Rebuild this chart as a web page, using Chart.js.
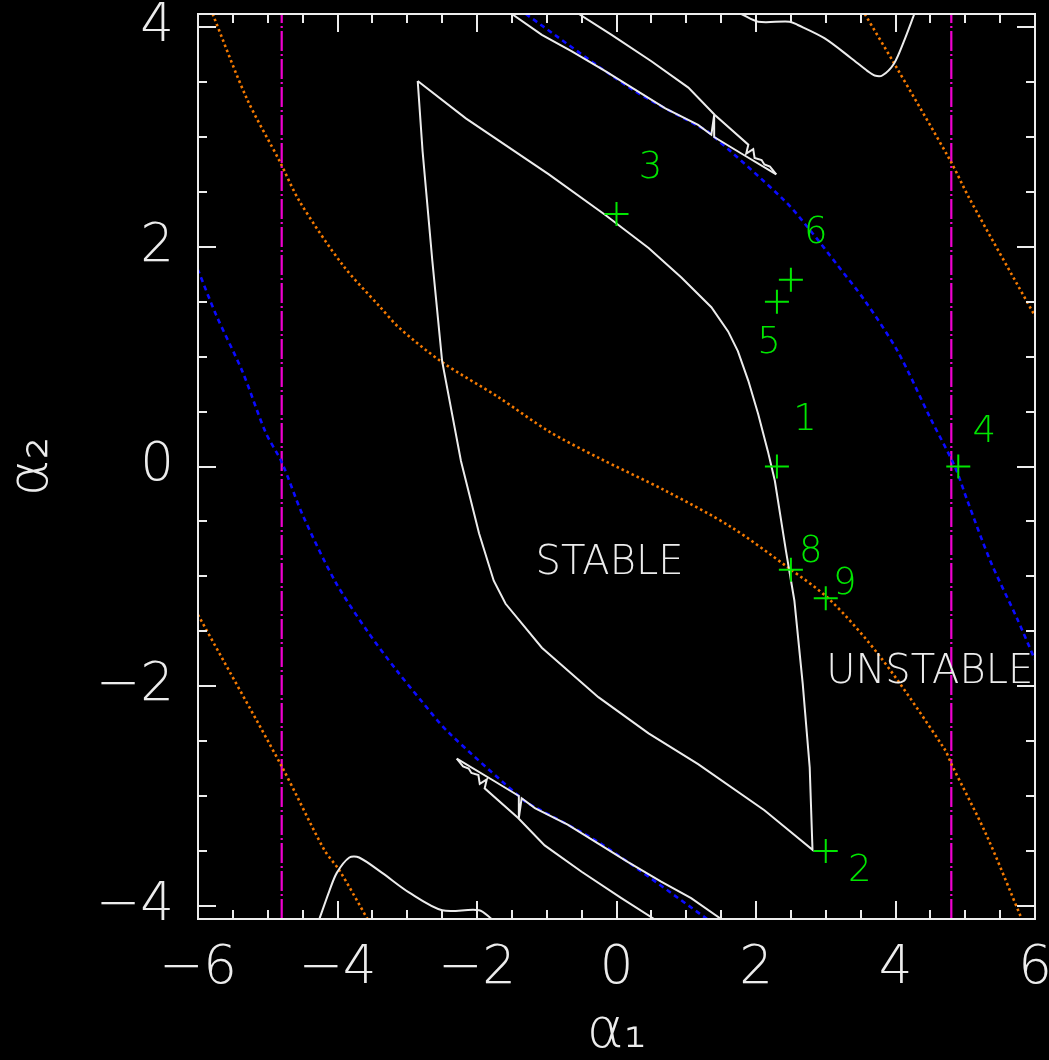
<!DOCTYPE html>
<html>
<head>
<meta charset="utf-8">
<script src="https://cdn.jsdelivr.net/npm/chart.js@4.4.1/dist/chart.umd.min.js"></script>
<style>
  html, body { margin: 0; padding: 0; background: #000; }
</style>
</head>
<body>
<canvas id="stabilityChart" width="1049" height="1060"></canvas>
<script>
// axis ticks
const xTickValues = [-6, -4, -2, 0, 2, 4, 6];
const yTickValues = [-4, -2, 0, 2, 4];

// white curves: stability boundary and side lobes
const stableBoundary = [
  [-2.85, 3.51], [-2.16, 3.17], [-0.97, 2.66], [-0.16, 2.29], [0.46, 1.99], [0.93, 1.72],
  [1.36, 1.45], [1.6, 1.23], [1.74, 1.05], [1.89, 0.78], [2.03, 0.48], [2.17, 0.14],
  [2.27, -0.13], [2.43, -0.77], [2.55, -1.22], [2.67, -1.98], [2.77, -2.74], [2.81, -3.49],
  [2.12, -3.13], [1.17, -2.71], [0.46, -2.43], [-0.26, -2.1], [-1.07, -1.65], [-1.59, -1.25],
  [-1.76, -1.04], [-1.97, -0.61], [-2.23, 0.05], [-2.5, 0.96], [-2.64, 1.87], [-2.78, 2.87],
  [-2.85, 3.51]
];
const topLobeInner = [
  [-1.5, 4.12], [-1.07, 3.93], [-0.64, 3.78], [-0.16, 3.6], [0.22, 3.45], [0.7, 3.26],
  [1.17, 3.11], [1.36, 3.02], [1.4, 3.2], [1.4, 3.0], [1.79, 2.85], [2.29, 2.66]
];
const topLobeOuter = [
  [-0.54, 4.12], [-0.07, 3.93], [0.5, 3.69], [1.03, 3.45], [1.41, 3.2], [1.89, 2.93],
  [1.86, 2.85], [1.96, 2.89], [1.98, 2.81], [2.08, 2.79], [2.12, 2.75], [2.2, 2.73], [2.29, 2.66]
];
const bottomLobeInner = [
  [1.5, -4.12], [1.07, -3.93], [0.64, -3.78], [0.16, -3.6], [-0.22, -3.45], [-0.7, -3.26],
  [-1.17, -3.11], [-1.36, -3.02], [-1.4, -3.2], [-1.4, -3.0], [-1.79, -2.85], [-2.29, -2.66]
];
const bottomLobeOuter = [
  [0.54, -4.12], [0.07, -3.93], [-0.5, -3.69], [-1.03, -3.45], [-1.41, -3.2], [-1.89, -2.93],
  [-1.86, -2.85], [-1.96, -2.89], [-1.98, -2.81], [-2.08, -2.79], [-2.12, -2.75], [-2.2, -2.73], [-2.29, -2.66]
];
const topRightCurve = [
  [1.79, 4.12], [2.03, 4.05], [2.48, 4.05], [2.6, 4.02], [2.98, 3.9], [3.36, 3.72],
  [3.6, 3.6], [3.7, 3.56], [3.81, 3.56], [3.98, 3.67], [4.12, 3.87], [4.27, 4.12]
];
const bottomLeftCurve = [
  [-4.26, -4.12], [-4.12, -3.87], [-4.01, -3.7], [-3.83, -3.56], [-3.69, -3.56], [-3.36, -3.7],
  [-2.97, -3.88], [-2.5, -4.04], [-1.97, -4.04], [-1.79, -4.12]
];

// blue dashed curves
const blueUpper = [
  [-1.3, 4.12], [0.21, 3.44], [1.17, 3.1], [1.31, 3.05], [2.41, 2.42], [2.79, 2.14],
  [3.16, 1.84], [3.56, 1.51], [4.03, 1.05], [4.5, 0.44], [4.85, 0], [5.03, -0.31],
  [5.36, -0.86], [5.74, -1.38], [6, -1.76]
];
const blueLower = [
  [1.3, -4.12], [-0.21, -3.44], [-1.17, -3.1], [-1.31, -3.05], [-2.41, -2.42], [-2.79, -2.14],
  [-3.16, -1.85], [-3.56, -1.51], [-4.03, -1.05], [-4.5, -0.44], [-4.8, 0.04], [-5.03, 0.31],
  [-5.36, 0.86], [-5.74, 1.38], [-6, 1.79]
];

// orange dotted curves
const orangeMiddle = [
  [-5.79, 4.12], [-5.3, 3.35], [-4.83, 2.78], [-4.54, 2.41], [-3.92, 1.83], [-3.4, 1.46],
  [-3.11, 1.26], [-2.5, 0.95], [-1.69, 0.63], [-0.97, 0.32], [-0.26, 0.08], [0.7, -0.22],
  [1.64, -0.55], [2.46, -0.92], [3.07, -1.22], [3.79, -1.74], [4.7, -2.57], [4.81, -2.72],
  [5.3, -3.35], [5.81, -4.12]
];
const orangeLower = [[-6, -1.35], [-4.8, -2.73], [-4.19, -3.49], [-3.97, -3.68], [-3.57, -4.12]];
const orangeUpper = [[3.56, 4.12], [3.99, 3.66], [4.79, 2.78], [5.06, 2.44], [6, 1.37]];

// magenta dash-dot verticals
const magentaLeft = [[-4.8, -4.12], [-4.8, 4.12]];
const magentaRight = [[4.8, -4.12], [4.8, 4.12]];

// green numbered points
const markerIds = ['1', '2', '3', '4', '5', '6', '8', '9'];
const markerX = [2.3, 3.0, 0.0, 4.9, 2.3, 2.5, 2.5, 3.0];
const markerY = [0.0, -3.5, 2.3, 0.0, 1.5, 1.7, -0.94, -1.2];

// region names
const regionNames = ['STABLE', 'UNSTABLE'];
const regionX = [-0.1, 4.49];
const regionY = [-0.88, -1.88];

const FONT = '"DejaVu Sans", "Liberation Sans", sans-serif';
const WHITE = '#ececec';
const GREEN = '#00e600';
const ORANGE = '#f57a00';
const BLUE = '#0a0aff';
const MAGENTA = '#f000d0';
const labelOffsets = {
  '1': [28, -46], '2': [34, 20], '3': [34, -46], '4': [26, -34],
  '5': [-8, 42], '6': [25, -46], '8': [20, -17], '9': [19, -14]
};

const pts = arr => arr.map(p => ({ x: p[0], y: p[1] }));

function curve(data, color, width, dash, order, tension) {
  return {
    data: pts(data),
    showLine: true,
    borderColor: color,
    borderWidth: width,
    borderDash: dash,
    pointRadius: 0,
    tension: tension,
    fill: false,
    order: order
  };
}

const fmt = v => (v < 0 ? '\u2212' + Math.abs(v) : String(v));

const background = {
  id: 'background',
  beforeDraw(chart) {
    const ctx = chart.ctx;
    ctx.save();
    ctx.fillStyle = '#000';
    ctx.fillRect(0, 0, chart.width, chart.height);
    ctx.restore();
  }
};

const frameTicks = {
  id: 'frameTicks',
  afterDraw(chart) {
    const { ctx, chartArea: a, scales: { x, y } } = chart;
    ctx.save();
    ctx.strokeStyle = WHITE;
    ctx.lineWidth = 2;
    ctx.strokeRect(a.left, a.top, a.right - a.left, a.bottom - a.top);
    ctx.beginPath();
    for (let v = -6; v <= 6; v += 0.5) {
      const len = v % 2 === 0 ? 18 : 9;
      const px = Math.round(x.getPixelForValue(v));
      ctx.moveTo(px, a.bottom); ctx.lineTo(px, a.bottom - len);
      ctx.moveTo(px, a.top); ctx.lineTo(px, a.top + len);
    }
    for (let v = -4; v <= 4; v += 0.5) {
      const len = v % 2 === 0 ? 18 : 9;
      const py = Math.round(y.getPixelForValue(v));
      ctx.moveTo(a.left, py); ctx.lineTo(a.left + len, py);
      ctx.moveTo(a.right, py); ctx.lineTo(a.right - len, py);
    }
    ctx.stroke();
    ctx.restore();
  }
};

const textLabels = {
  id: 'textLabels',
  afterDatasetsDraw(chart) {
    const { ctx, scales: { x, y } } = chart;
    ctx.save();
    ctx.textAlign = 'center';
    ctx.textBaseline = 'middle';
    ctx.fillStyle = GREEN;
    ctx.font = '200 37px ' + FONT;
    markerIds.forEach((id, i) => {
      const off = labelOffsets[id];
      ctx.fillText(id, x.getPixelForValue(markerX[i]) + off[0], y.getPixelForValue(markerY[i]) + off[1]);
    });
    ctx.fillStyle = WHITE;
    ctx.font = '200 40px ' + FONT;
    regionNames.forEach((name, i) => {
      ctx.fillText(name, x.getPixelForValue(regionX[i]), y.getPixelForValue(regionY[i]));
    });
    ctx.restore();
  }
};

const tickFont = { family: FONT, size: 53, weight: '200' };

new Chart(document.getElementById('stabilityChart'), {
  type: 'scatter',
  data: {
    datasets: [
      {
        data: markerIds.map((id, i) => ({ x: markerX[i], y: markerY[i] })),
        pointStyle: 'cross',
        pointRadius: 12,
        pointBorderWidth: 2,
        borderColor: GREEN,
        showLine: false,
        order: 0
      },
      curve(stableBoundary, WHITE, 2, [], 1, 0),
      curve(topLobeInner, WHITE, 2, [], 1, 0),
      curve(topLobeOuter, WHITE, 2, [], 1, 0),
      curve(bottomLobeInner, WHITE, 2, [], 1, 0),
      curve(bottomLobeOuter, WHITE, 2, [], 1, 0),
      curve(topRightCurve, WHITE, 2, [], 1, 0.3),
      curve(bottomLeftCurve, WHITE, 2, [], 1, 0.3),
      curve(orangeMiddle, ORANGE, 2.6, [2.5, 3], 2, 0.3),
      curve(orangeLower, ORANGE, 2.6, [2.5, 3], 2, 0.3),
      curve(orangeUpper, ORANGE, 2.6, [2.5, 3], 2, 0.3),
      curve(blueUpper, BLUE, 2.6, [5, 4], 3, 0.3),
      curve(blueLower, BLUE, 2.6, [5, 4], 3, 0.3),
      curve(magentaLeft, MAGENTA, 2.2, [20, 3, 2, 3], 4, 0),
      curve(magentaRight, MAGENTA, 2.2, [20, 3, 2, 3], 4, 0)
    ]
  },
  options: {
    responsive: false,
    animation: false,
    events: [],
    layout: { padding: { top: 13, right: 11, left: 0, bottom: 0 } },
    plugins: { legend: { display: false }, tooltip: { enabled: false } },
    scales: {
      x: {
        type: 'linear',
        min: -6,
        max: 6,
        afterBuildTicks: s => { s.ticks = xTickValues.map(v => ({ value: v })); },
        afterFit: s => { s.height = 141; s.paddingLeft = 0; s.paddingRight = 0; },
        grid: { display: false, drawTicks: false },
        border: { display: false },
        ticks: { color: WHITE, font: tickFont, padding: 18, maxRotation: 0, autoSkip: false, callback: fmt },
        title: {
          display: true,
          text: 'α₁',
          color: WHITE,
          font: { family: FONT, size: 56, weight: '200', lineHeight: 1 },
          padding: { top: 0, bottom: 0 }
        }
      },
      y: {
        type: 'linear',
        min: -4.12,
        max: 4.12,
        afterBuildTicks: s => { s.ticks = yTickValues.map(v => ({ value: v })); },
        afterFit: s => { s.width = 198; s.paddingTop = 0; s.paddingBottom = 0; },
        grid: { display: false, drawTicks: false },
        border: { display: false },
        ticks: { color: WHITE, font: tickFont, padding: 24, autoSkip: false, callback: fmt },
        title: {
          display: true,
          text: 'α₂',
          color: WHITE,
          font: { family: FONT, size: 56, weight: '200', lineHeight: 1 },
          padding: { top: 4, bottom: 0 }
        }
      }
    }
  },
  plugins: [background, frameTicks, textLabels]
});
</script>
</body>
</html>
